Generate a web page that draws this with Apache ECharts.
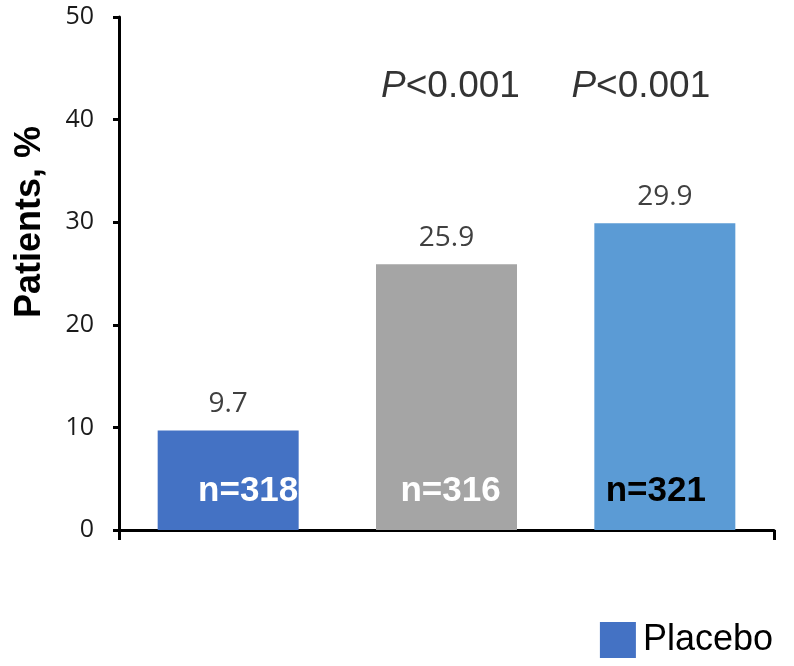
<!DOCTYPE html>
<html><head><meta charset="utf-8">
<script src="https://cdn.jsdelivr.net/npm/echarts@6/dist/echarts.min.js"></script>
<style>html,body{margin:0;padding:0;background:#fff}#c{width:794px;height:666px}</style>
</head><body><div id="c"></div>
<script>
var categories = ['Placebo', 'Treatment 1', 'Treatment 2'];
var values = [9.7, 25.9, 29.9];
var nLabels = ['n=318', 'n=316', 'n=321'];
var pLabels = [null, 'P<0.001', 'P<0.001'];
var pLevel = 43.2;
var yTicks = [0, 10, 20, 30, 40, 50];
var colors = ['#4472C4', '#A5A5A5', '#5B9BD5'];
var nColors = ['#ffffff', '#ffffff', '#000000'];

var chart = echarts.init(document.getElementById('c'));
var option = {
  animation: false,
  grid: {left: 119, right: 20, top: 17, bottom: 136, containLabel: false},
  legend: {
    data: ['Placebo'], right: 16, bottom: 3, itemWidth: 36, itemHeight: 36, itemGap: 8,
    icon: 'rect',
    textStyle: {fontFamily: 'Liberation Sans, Arial', fontSize: 36, color: '#000', padding: [0, 0, 0, 2]}
  },
  xAxis: {
    type: 'category', data: categories,
    axisLine: {lineStyle: {color: '#000', width: 3}},
    axisTick: {show: true, length: 10, lineStyle: {color: '#000', width: 3},
      interval: function (i) { return i === 0; }},
    axisLabel: {show: false}
  },
  yAxis: {
    type: 'value', min: 0, max: 50, interval: 10,
    axisLine: {show: true, lineStyle: {color: '#000', width: 3}},
    axisTick: {show: true, length: 6, lineStyle: {color: '#000', width: 3}},
    splitLine: {show: false},
    axisLabel: {fontFamily: 'Open Sans', fontSize: 25, color: '#1a1a1a', margin: 25,
      formatter: function (v) { return yTicks.indexOf(v) >= 0 ? String(v) : ''; }}
  },
  series: [
    {
      name: 'Placebo', type: 'bar', barWidth: 141,
      itemStyle: {color: colors[0]},
      data: values.map(function (v, i) { return {value: v, itemStyle: {color: colors[i]}}; }),
      label: {show: true, position: 'top', distance: 12, fontFamily: 'Open Sans', fontSize: 28, color: '#404040'}
    },
    {
      name: 'n', type: 'bar', barWidth: 141, barGap: '-100%', silent: true,
      itemStyle: {color: 'rgba(0,0,0,0)'},
      data: values.map(function (v, i) {
        return {value: v, label: {show: true, position: 'insideBottom', distance: 21,
          offset: [i === 0 ? 20 : (i === 1 ? 4 : -9), 0],
          formatter: nLabels[i], color: nColors[i], fontWeight: 'bold',
          fontFamily: 'Liberation Sans, Arial', fontSize: 35}};
      })
    },
    {
      name: 'p', type: 'scatter', symbolSize: 0, silent: true,
      data: pLabels.map(function (p, i) {
        return p ? {value: pLevel, label: {show: true, position: 'inside',
          offset: [i === 2 ? -24 : 4, 0],
          formatter: '{i|P}{n|' + p.slice(1) + '}'}} : null;
      }),
      label: {rich: {
        i: {fontStyle: 'italic', fontFamily: 'Liberation Sans, Arial', fontSize: 37, color: '#000'},
        n: {fontFamily: 'Liberation Sans, Arial', fontSize: 37, color: '#000'}
      }}
    }
  ],
  graphic: [{
    type: 'text', left: 12, top: 126, rotation: Math.PI / 2,
    style: {text: 'Patients, %', font: 'bold 36px "Liberation Sans", Arial', fill: '#000'}
  }]
};
chart.setOption(option);
</script></body></html>
